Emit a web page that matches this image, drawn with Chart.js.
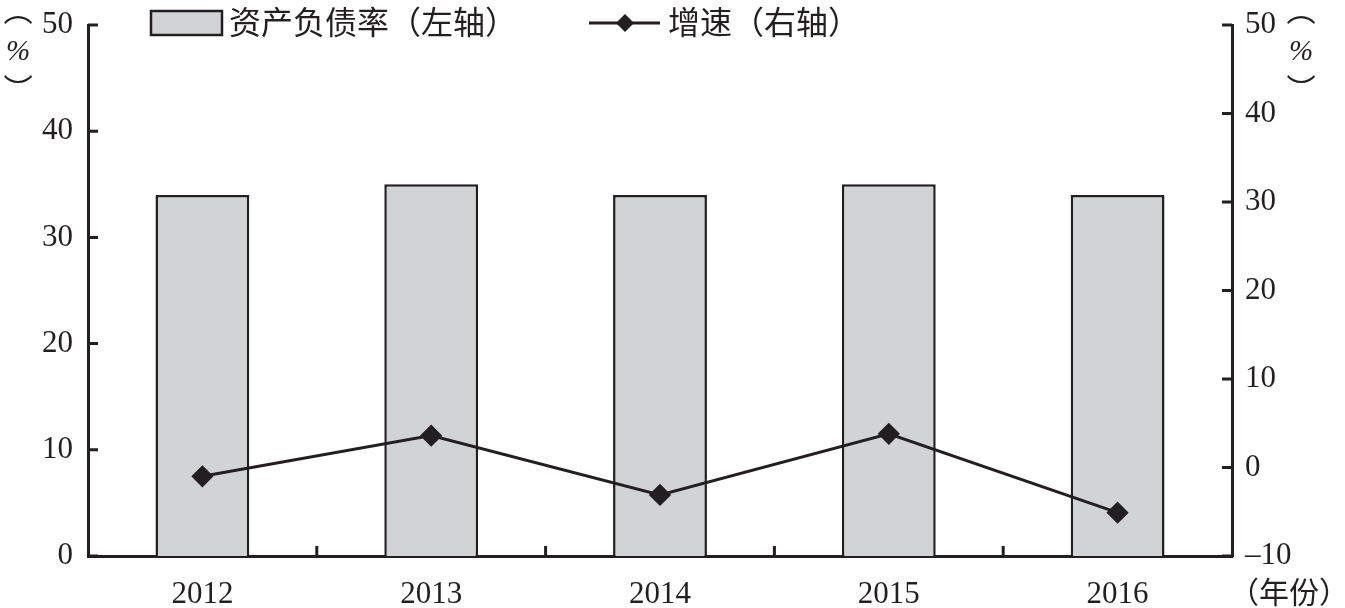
<!DOCTYPE html>
<html>
<head>
<meta charset="utf-8">
<script src="https://cdn.jsdelivr.net/npm/chart.js@4/dist/chart.umd.min.js"></script>
<style>
  html, body { margin: 0; padding: 0; background: #fff; }
  #wrap { width: 1345px; height: 608px; }
</style>
</head>
<body>
<div id="wrap"><canvas id="myChart" width="1345" height="608"></canvas></div>
<script>
    const years = ['2012', '2013', '2014', '2015', '2016'];
    const debtRatio = [34.0, 35.0, 34.0, 35.0, 34.0];
    const growth = [-1.0, 3.6, -3.1, 3.8, -5.1];
    const leftTicks = [0, 10, 20, 30, 40, 50];
    const rightTicks = [-10, 0, 10, 20, 30, 40, 50];

    const ink = '#231f20';
    const barFill = '#d1d3d4';
    const serif = '"Liberation Serif", "Times New Roman", serif';
    const cjk = '"Noto Sans CJK SC", sans-serif';

    // draw one glyph with its ink box centred on (cx, cy), about w px wide
    function glyphAt(ctx, ch, cx, cy, w) {
        ctx.save();
        ctx.textAlign = 'left';
        ctx.textBaseline = 'alphabetic';
        ctx.font = '100px ' + cjk;
        let m = ctx.measureText(ch);
        const size = Math.max(10, 100 * w / (m.actualBoundingBoxLeft + m.actualBoundingBoxRight));
        ctx.font = size + 'px ' + cjk;
        m = ctx.measureText(ch);
        const x = cx - (m.actualBoundingBoxRight - m.actualBoundingBoxLeft) / 2;
        const y = cy - (m.actualBoundingBoxDescent - m.actualBoundingBoxAscent) / 2;
        ctx.fillText(ch, x, y);
        ctx.restore();
    }

    // inward tick marks, legend and unit labels
    const extras = {
        id: 'extras',
        afterDraw(chart) {
            const ctx = chart.ctx;
            const area = chart.chartArea;
            const x = chart.scales.x;
            const yL = chart.scales.y;
            const yR = chart.scales.y1;
            ctx.save();
            ctx.strokeStyle = ink;
            ctx.lineWidth = 3;
            ctx.beginPath();
            leftTicks.forEach(v => {
                const py = yL.getPixelForValue(v);
                ctx.moveTo(area.left, py);
                ctx.lineTo(area.left + 10, py);
            });
            rightTicks.forEach(v => {
                const py = yR.getPixelForValue(v);
                ctx.moveTo(area.right, py);
                ctx.lineTo(area.right - 10, py);
            });
            for (let i = 0; i < years.length - 1; i++) {
                const px = (x.getPixelForValue(i) + x.getPixelForValue(i + 1)) / 2;
                ctx.moveTo(px, area.bottom);
                ctx.lineTo(px, area.bottom - 10);
            }
            ctx.stroke();

            // legend
            ctx.fillStyle = barFill;
            ctx.lineWidth = 2.5;
            ctx.fillRect(151, 11, 71, 24);
            ctx.strokeRect(151, 11, 71, 24);
            ctx.fillStyle = ink;
            ctx.font = '32px ' + cjk;
            ctx.textBaseline = 'middle';
            ctx.textAlign = 'left';
            ctx.fillText('资产负债率（左轴）', 229, 22);
            ctx.lineWidth = 3;
            ctx.beginPath();
            ctx.moveTo(589, 23);
            ctx.lineTo(660, 23);
            ctx.stroke();
            ctx.beginPath();
            ctx.moveTo(625, 14);
            ctx.lineTo(634, 23);
            ctx.lineTo(625, 32);
            ctx.lineTo(616, 23);
            ctx.closePath();
            ctx.fill();
            ctx.fillText('增速（右轴）', 668, 22);

            // unit labels, written top to bottom
            const vertical = (cx) => {
                glyphAt(ctx, '︵', cx, 20, 28);
                glyphAt(ctx, '︶', cx, 78, 28);
                ctx.font = 'italic 29px ' + serif;
                ctx.textAlign = 'center';
                ctx.textBaseline = 'middle';
                ctx.fillText('%', cx, 52);
            };
            vertical(18);
            vertical(1301);

            ctx.font = '30px ' + cjk;
            ctx.textAlign = 'left';
            ctx.textBaseline = 'middle';
            ctx.fillText('（年份）', 1229, 592);
            ctx.restore();
        }
    };

    const tickFont = { family: serif, size: 31, lineHeight: 0.6 };

    const ctx = document.getElementById('myChart').getContext('2d');
    new Chart(ctx, {
        type: 'bar',
        data: {
            labels: years,
            datasets: [{
                type: 'line',
                label: '增速（右轴）',
                data: growth,
                yAxisID: 'y1',
                borderColor: ink,
                borderWidth: 3,
                pointStyle: 'rectRot',
                pointRadius: 9,
                pointBackgroundColor: ink,
                pointBorderColor: ink,
                tension: 0,
                order: 0
            }, {
                label: '资产负债率（左轴）',
                data: debtRatio,
                yAxisID: 'y',
                backgroundColor: barFill,
                borderColor: ink,
                borderWidth: 2.5,
                categoryPercentage: 1,
                barPercentage: 0.41,
                order: 1
            }]
        },
        options: {
            responsive: false,
            animation: false,
            layout: { padding: { top: 25, left: 0, right: 0, bottom: 0 } },
            plugins: {
                legend: { display: false },
                tooltip: { enabled: false }
            },
            scales: {
                x: {
                    z: 1,
                    grid: { display: false, drawTicks: false },
                    border: { display: true, color: ink, width: 3 },
                    ticks: { color: ink, font: { family: serif, size: 31 }, padding: 20 },
                    afterFit(scale) { scale.height = 52; }
                },
                y: {
                    position: 'left',
                    min: 0,
                    max: 50,
                    grid: { display: false, drawTicks: false },
                    border: { display: true, color: ink, width: 3 },
                    ticks: { stepSize: 10, color: ink, font: tickFont, padding: 15 },
                    afterFit(scale) { scale.width = 88; }
                },
                y1: {
                    position: 'right',
                    min: -10,
                    max: 50,
                    grid: { display: false, drawTicks: false },
                    border: { display: true, color: ink, width: 3 },
                    ticks: {
                        stepSize: 10, color: ink, font: tickFont, padding: 13,
                        callback: v => (v < 0 ? '–' + Math.abs(v) : String(v))
                    },
                    afterFit(scale) { scale.width = 113; }
                }
            }
        },
        plugins: [extras]
    });
</script>
</body>
</html>
